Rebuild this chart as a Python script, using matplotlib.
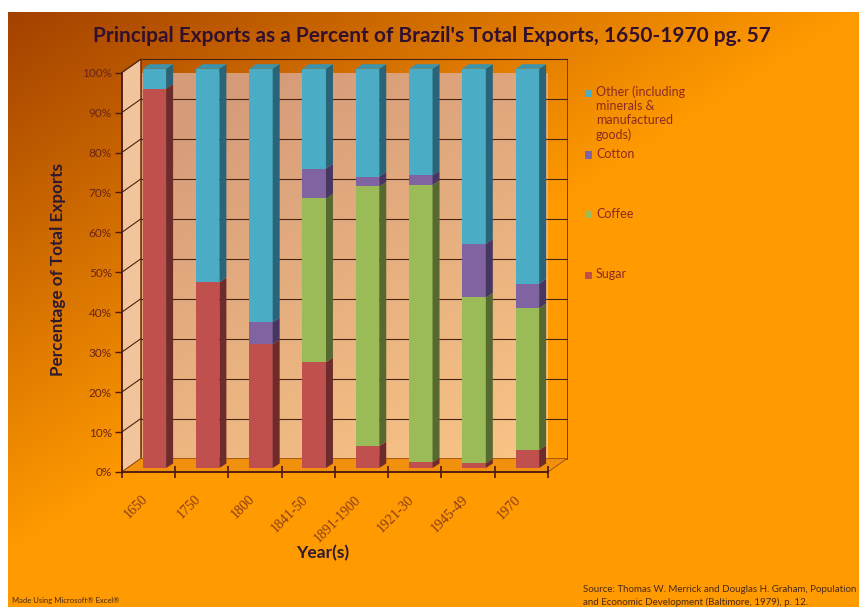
import numpy as np
import matplotlib
matplotlib.use('Agg')
import matplotlib.pyplot as plt
from matplotlib.patches import Polygon, Rectangle
from matplotlib.transforms import ScaledTranslation

categories = ['1650', '1750', '1800', '1841-50', '1891-1900', '1921-30', '1945-49', '1970']
sugar = [95, 46.5, 31, 26.5, 5.5, 1.4, 1.2, 4.5]
coffee = [0, 0, 0, 41, 65, 69.5, 41.5, 35.5]
cotton = [0, 0, 5.5, 7.5, 2.5, 2.4, 13.5, 6.2]
other = [5, 53.5, 63.5, 25, 27, 26.7, 43.8, 53.8]
yticks = [0, 10, 20, 30, 40, 50, 60, 70, 80, 90, 100]
series_names = ['Sugar', 'Coffee', 'Cotton', 'Other (including\nminerals &\nmanufactured\ngoods)']
front_cols = ['#C0504D', '#9BBB59', '#8064A2', '#4BACC6']
side_cols = ['#6E2B2A', '#56692F', '#473760', '#2A6479']
top_cols = ['#A84440', '#86A24B', '#6E558E', '#3B93AE']

W, H = 859, 607
fig = plt.figure(figsize=(W / 100, H / 100), dpi=100)

# background gradient
bg = fig.add_axes([0, 0, 1, 1], zorder=-10)
yy, xx = np.mgrid[0:H, 0:W]
t = np.clip((xx / W) * 0.9 + (yy / H) * 1.0, 0, 1)
f = np.clip(t / 0.92, 0, 1)
c0 = np.array([160, 62, 0]) / 255
c1 = np.array([255, 154, 0]) / 255
img = c0[None, None, :] * (1 - f[..., None]) + c1[None, None, :] * f[..., None]
img[:12, :, :] = 1
img[:, :8, :] = 1
bg.imshow(img, aspect='auto', extent=[0, W, H, 0])
bg.set_xlim(0, W); bg.set_ylim(H, 0)
bg.axis('off')

# main axes
L, R, B, T = 121.7, 548.0, 472.0, 72.7
ax = fig.add_axes([L / W, 1 - B / H, (R - L) / W, (B - T) / H])
ax.set_xlim(0, 8)
ax.set_ylim(0, 100)
ax.patch.set_alpha(0)

pxx = (R - L) / 8
pxy = (B - T) / 100
WX, WY = 19 / pxx, 13.4 / pxy

# walls
back = Polygon([(WX, WY), (8 + WX, WY), (8 + WX, 100 + WY), (WX, 100 + WY)],
               closed=True, facecolor='none', edgecolor='#7a3a1a', lw=0.7, clip_on=False, zorder=1)
ax.add_patch(back)
grad = np.linspace(0, 1, 200)
gx, gy = np.meshgrid(grad, grad)
g = np.clip(0.4 * (1 - gx) + 0.75 * (1 - gy), 0, 1)
wc0 = np.array([214, 156, 122]) / 255
wc1 = np.array([250, 198, 134]) / 255
wimg = wc0 * g[..., None] + wc1 * (1 - g[..., None])
im = ax.imshow(wimg, extent=[WX, 8 + WX, WY, 100 + WY], origin='upper', aspect='auto', zorder=0.5)
im.set_clip_path(back)
left_wall = Polygon([(0, 0), (WX, WY), (WX, 100 + WY), (0, 100)], closed=True,
                    facecolor='#F2C49C', edgecolor='#7a3a1a', lw=0.7, clip_on=False, zorder=1)
ax.add_patch(left_wall)
floor = Polygon([(0, 0), (8, 0), (8 + WX, WY), (WX, WY)], closed=True,
                facecolor='#F0900C', edgecolor='#9a4a10', lw=0.6, clip_on=False, zorder=1.2)
ax.add_patch(floor)
for v in yticks[1:]:
    ax.plot([WX, 8 + WX], [v + WY, v + WY], color='#4a2412', lw=0.8, clip_on=False, zorder=1.5)
    ax.plot([0, WX], [v, v + WY], color='#4a2412', lw=0.8, clip_on=False, zorder=1.5)

# bars
x = np.arange(len(categories)) + 0.5
ox, oy = 6 / pxx, 4 / pxy
bw = 23.5 / pxx
dx, dy = 7 / pxx, 4.5 / pxy
series = [sugar, coffee, cotton, other]
bottom = np.zeros(len(categories))
for s, vals in enumerate(series):
    vals = np.array(vals, dtype=float)
    ax.bar(x + ox, vals, width=bw, bottom=bottom + oy, color=front_cols[s], zorder=3,
           clip_on=False, linewidth=0)
    for i in range(len(categories)):
        if vals[i] <= 0:
            continue
        xr = x[i] + ox + bw / 2
        y0 = bottom[i] + oy
        y1 = bottom[i] + vals[i] + oy
        ax.add_patch(Polygon([(xr, y0), (xr + dx, y0 + dy), (xr + dx, y1 + dy), (xr, y1)],
                             closed=True, facecolor=side_cols[s], lw=0, clip_on=False, zorder=3))
    bottom = bottom + vals
for i in range(len(categories)):
    xl = x[i] + ox - bw / 2
    xr = xl + bw
    yt = bottom[i] + oy
    ax.add_patch(Polygon([(xl, yt), (xr, yt), (xr + dx, yt + dy), (xl + dx, yt + dy)],
                         closed=True, facecolor=top_cols[3], lw=0, clip_on=False, zorder=3))

# axes styling
for sp in ['top', 'right']:
    ax.spines[sp].set_visible(False)
for sp in ['left', 'bottom']:
    ax.spines[sp].set_color('#4a1a10')
    ax.spines[sp].set_linewidth(1.3)
    ax.spines[sp].set_zorder(4)
ax.set_yticks(yticks)
ax.set_yticklabels([f'{v}%' for v in yticks], fontsize=8.5, color='#6a2418', family='Lato')
ax.tick_params(axis='y', direction='out', length=5, width=1, color='#4a1a10', pad=2)
ax.set_xticks(np.arange(0, 9))
ax.set_xticklabels([])
ax.tick_params(axis='x', which='major', direction='inout', length=9, width=1.2, color='#4a1a10')
ax.set_xticks(x, minor=True)
ax.set_xticklabels(categories, minor=True, rotation=45, ha='right', va='top',
                   rotation_mode='anchor', fontsize=10, color='#8a3c1a', family='Liberation Serif')
ax.tick_params(axis='x', which='minor', length=0, pad=15)
shift = ScaledTranslation(-0.07, 0, fig.dpi_scale_trans)
for lbl in ax.get_xticklabels(minor=True):
    lbl.set_transform(lbl.get_transform() + shift)

# texts
fig.text(432 / W, 1 - 36 / H, "Principal Exports as a Percent of Brazil's Total Exports, 1650-1970 pg. 57",
         ha='center', va='center', fontsize=15, fontweight='bold', color='#33102e', family='Lato')
fig.text(58 / W, 1 - 270 / H, 'Percentage of Total Exports', rotation=90, ha='center', va='center',
         fontsize=12.3, fontweight='bold', color='#2e1a2e', family='Lato')
fig.text(323 / W, 1 - 553 / H, 'Year(s)', ha='center', va='center',
         fontsize=12.5, fontweight='bold', color='#2e1a2e', family='Lato')

# legend
leg_y = [275, 215, 155, 93]
for s in range(4):
    fig.patches.append(Rectangle(((585) / W, 1 - (leg_y[s] + 3.5) / H), 7 / W, 7 / H,
                                 transform=fig.transFigure, facecolor=front_cols[s], lw=0))
    fig.text(596 / W, 1 - (leg_y[s] - 7.5) / H, series_names[s], ha='left', va='top',
             fontsize=9, color='#8a2a24', family='Lato', linespacing=1.22)

fig.text(12 / W, 1 - 601 / H, 'Made Using Microsoft® Excel®', ha='left', va='center',
         fontsize=5.5, color='#4a2a18', family='Lato')
fig.text(583 / W, 1 - 589 / H, 'Source: Thomas W. Merrick and Douglas H. Graham, Population',
         ha='left', va='center', fontsize=7.0, color='#4a2a18', family='Lato')
fig.text(583 / W, 1 - 602 / H, 'and Economic Development (Baltimore, 1979), p. 12.',
         ha='left', va='center', fontsize=7.0, color='#4a2a18', family='Lato')

fig.savefig('out.png', dpi=100)
